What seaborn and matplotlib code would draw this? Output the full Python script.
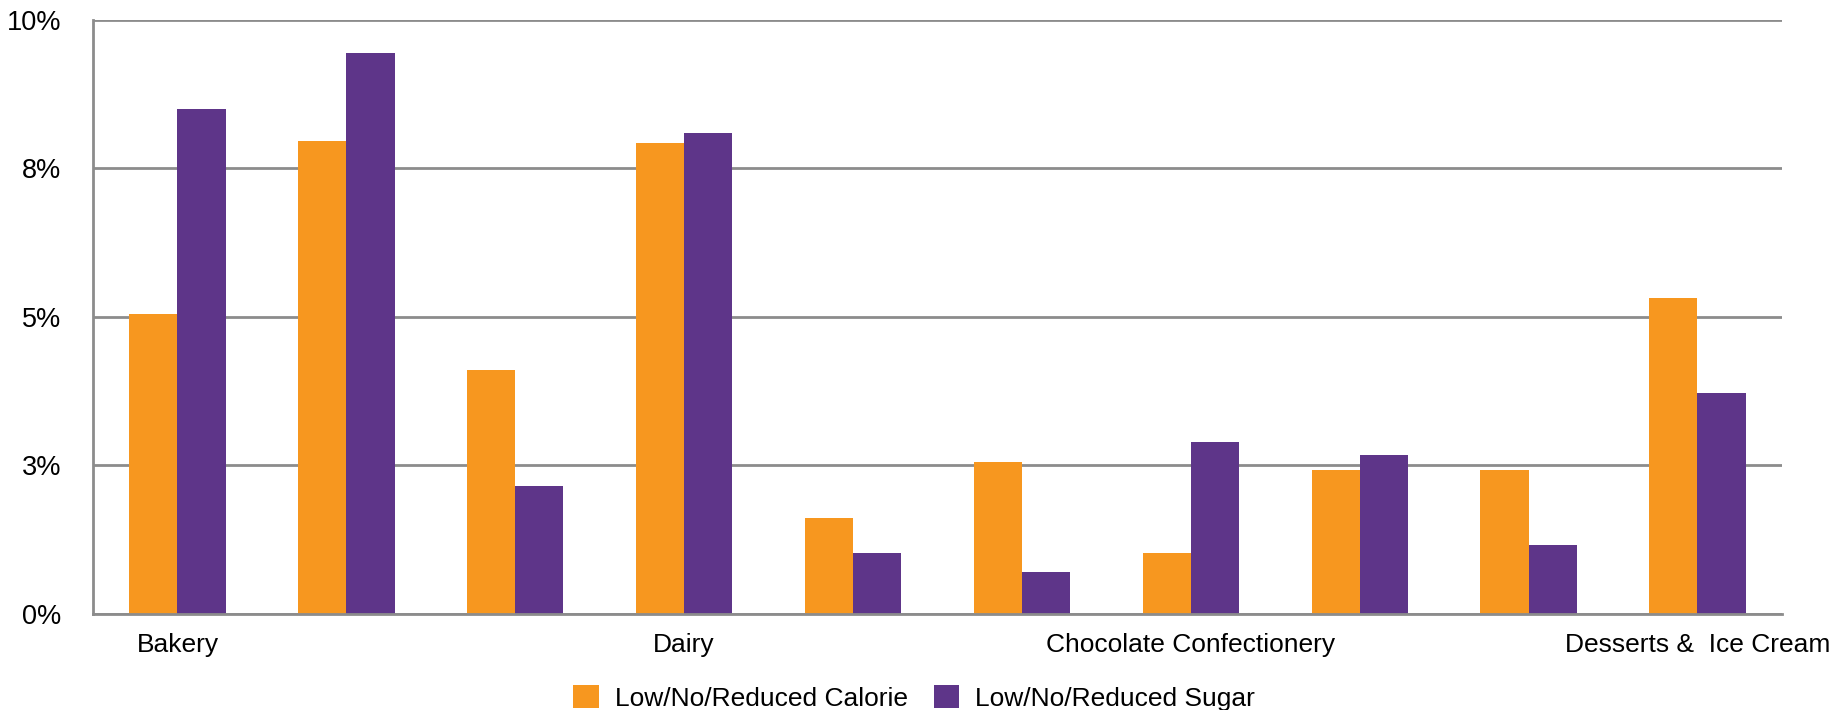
import matplotlib
matplotlib.use("Agg")
import matplotlib.pyplot as plt
import seaborn as sns
import pandas as pd

# Share of launches per segment (percent)
groups = list(range(10))
tick_labels = ["Bakery", "", "", "Dairy", "", "", "Chocolate Confectionery", "", "",
               "Desserts &  Ice Cream"]
series_names = ["Low/No/Reduced Calorie", "Low/No/Reduced Sugar"]
calorie = [5.05, 7.95, 4.11, 7.92, 1.61, 2.55, 1.02, 2.42, 2.42, 5.32]
sugar = [8.49, 9.43, 2.15, 8.09, 1.02, 0.70, 2.90, 2.68, 1.16, 3.71]
y_ticks = [0, 2.5, 5, 7.5, 10]
y_tick_labels = ["0%", "3%", "5%", "8%", "10%"]
colors = ["#F7971F", "#5E3589"]

df = pd.DataFrame({
    "group": groups * 2,
    "series": [series_names[0]] * len(groups) + [series_names[1]] * len(groups),
    "value": calorie + sugar,
})

sns.set_theme(style="white")
plt.rcParams["font.family"] = ["Liberation Sans", "DejaVu Sans"]
plt.rcParams["text.color"] = "black"

fig = plt.figure(figsize=(18.46, 7.10), dpi=100)
ax = fig.add_axes([0.0504, 0.1352, 0.9149, 0.8373])

sns.barplot(data=df, x="group", y="value", hue="series", order=groups,
            hue_order=series_names, palette=colors, width=0.57, gap=0,
            saturation=1, linewidth=0, ax=ax, legend=True)

ax.set_xlim(-0.5, 9.5)
ax.set_ylim(0, 10)
ax.set_yticks(y_ticks)
ax.set_yticklabels(y_tick_labels, fontsize=19.5)
ax.set_xticks(groups)
ax.set_xticklabels(tick_labels, fontsize=19)
ax.tick_params(axis="y", length=0, pad=23, labelcolor="black")
ax.tick_params(axis="x", length=0, pad=13.5, labelcolor="black")
ax.set_xlabel("")
ax.set_ylabel("")

grid_color = "#8C8C8C"
ax.yaxis.grid(True, color=grid_color, linewidth=2.0)
ax.set_axisbelow(True)
for side in ["top", "right"]:
    ax.spines[side].set_visible(False)
for side in ["left", "bottom"]:
    ax.spines[side].set_color(grid_color)
    ax.spines[side].set_linewidth(2.0)
ax.spines["bottom"].set_zorder(5)

handles, labels = ax.get_legend_handles_labels()
ax.get_legend().remove()
fig.legend(handles, labels, loc="center", bbox_to_anchor=(0.4952, 0.017),
           ncol=2, frameon=False, fontsize=19, handlelength=0.97, handleheight=0.97,
           handletextpad=0.6, columnspacing=1.0, borderpad=0, labelcolor="black")

fig.savefig("out.png", dpi=100, facecolor="white")
